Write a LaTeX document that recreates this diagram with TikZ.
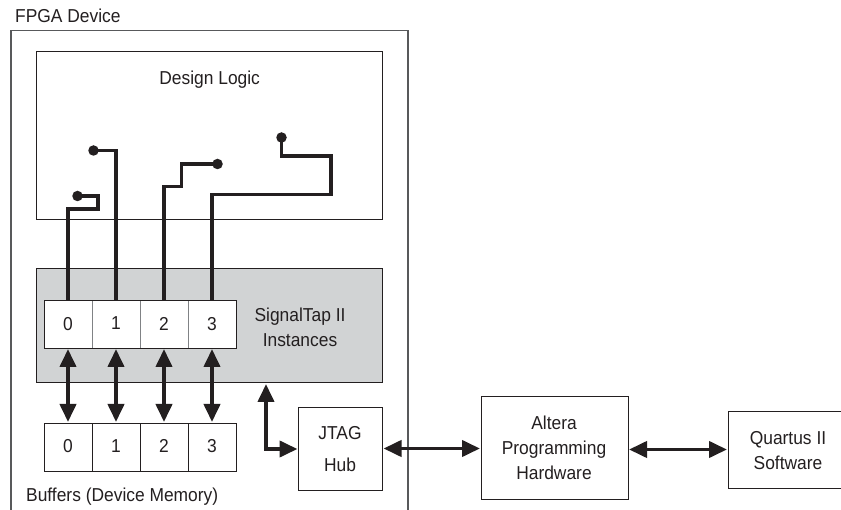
\documentclass[tikz,border=0pt]{standalone}
\usepackage{fontspec}
\setmainfont[FakeStretch=0.93]{Liberation Sans}
\usetikzlibrary{arrows.meta,calc}
\definecolor{ink}{HTML}{231F20}
\definecolor{panel}{HTML}{D1D3D4}
\definecolor{frameink}{HTML}{58595B}
\definecolor{thinink}{HTML}{808285}
\tikzset{
  x=1pt,y=-1pt,
  boxstyle/.style={draw=ink,line width=0.95pt,fill=white,inner sep=0pt,outer sep=0pt,align=center,text=ink,anchor=north west},
  cellstyle/.style={draw=ink,line width=0.9pt,fill=white,inner sep=0pt,outer sep=0pt,minimum width=48pt,minimum height=48pt,anchor=north west,text=ink,font=\fontsize{18.7}{25}\selectfont},
  label/.style={inner sep=0pt,text=ink,align=center,font=\fontsize{18.7}{25}\selectfont},
  wire/.style={draw=ink,line width=3.5pt,line join=miter},
  dotend/.style={circle,fill=ink,inner sep=0pt,minimum size=10.5pt},
  bothway/.style={draw=ink,line width=3.9pt,{Triangle[length=18pt,width=16pt]}-{Triangle[length=18pt,width=16pt]},shorten <=1pt,shorten >=1pt},
}
\begin{document}
\begin{tikzpicture}
\useasboundingbox (0,0) rectangle (841,510);
\fill[white] (0,0) rectangle (841,510);
% FPGA outline (open at the bottom)
\coordinate (fa) at (11,510);
\coordinate (fb) at (11,30.5);
\coordinate (fc) at (408,30.5);
\coordinate (fd) at (408,510);
\draw[draw=frameink,line width=1.3pt] (fa) -- (fb) -- (fc) -- (fd);
\node[label,anchor=west] (fpga) at (15,16) {FPGA Device};
% Design logic
\node[boxstyle,minimum width=346.5pt,minimum height=168pt] (logic) at (36.3,51.7) {};
\node[label] (logictxt) at (209.7,80) {Design Logic};
% SignalTap panel
\node[boxstyle,fill=panel,minimum width=346pt,minimum height=114pt] (panel) at (36,268) {};
\node[label] (sigtxt) at (300,327.5) {SignalTap II\\Instances};
% Cells
\foreach \i/\x in {0/44,1/92,2/140,3/188}{
  \node[cellstyle,draw=thinink,line width=0.6pt] (s\i) at (\x,300) {\raisebox{1pt}{\i}};
  \node[cellstyle] (b\i) at (\x,423) {\raisebox{1.5pt}{\i}};
}
\node[cellstyle,fill=none,minimum width=192pt] (sframe) at (44,300) {};
\node[label,anchor=west] (buftxt) at (26,496.5) {Buffers (Device Memory)};
% Other boxes
\node[boxstyle,minimum width=84pt,minimum height=83pt] (jtag) at (298.5,407.5) {};
\node[label] (jtagtxt) at (340,449.5) {JTAG\\[7pt]Hub};
\node[boxstyle,minimum width=147pt,minimum height=103pt] (altera) at (481,396.5) {};
\node[label] (alteratxt) at (554,447.5) {Altera\\Programming\\Hardware};
\node[boxstyle,minimum width=120pt,minimum height=77pt] (quartus) at (728,411.5) {};
\node[label] (quartustxt) at (788,450.2) {Quartus II\\Software};
% Wire ends
\node[dotend] (d0) at (77.5,196) {};
\node[dotend] (d1) at (93.5,150.5) {};
\node[dotend] (d2) at (217.5,164) {};
\node[dotend] (d3) at (281.5,137.5) {};
% Wires
\draw[wire] (s0.north) -- (68,209) -- (98,209) -- (98,196) -- (d0.center);
\draw[wire] (s1.north) -- (116,150.5) -- (d1.center);
\draw[wire] (s2.north) -- (164,186.5) -- (181.5,186.5) -- (181.5,164) -- (d2.center);
\draw[wire] (s3.north) -- (212,194.5) -- (331,194.5) -- (331,156) -- (281.5,156) -- (d3.center);
% Two-way arrows
\foreach \i in {0,1,2,3}{
  \draw[bothway] (s\i.south) -- (b\i.north);
}
\coordinate (panelport) at (266,383);
\draw[bothway] (panelport) |- (jtag.west);
\draw[bothway] (jtag.east |- 0,448.5) -- (altera.west |- 0,448.5);
\draw[bothway] (altera.east |- 0,449.5) -- (quartus.west |- 0,449.5);
\end{tikzpicture}
\end{document}
